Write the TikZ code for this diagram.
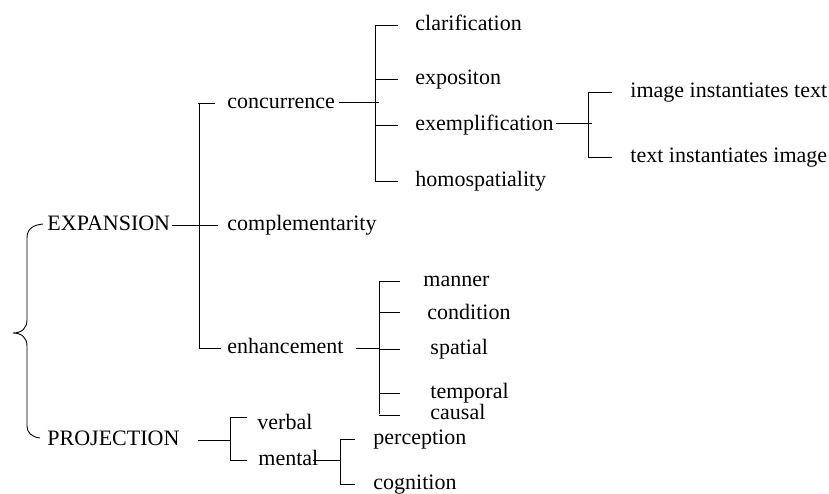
\documentclass[tikz,border=0pt]{standalone}
\usepackage{fontspec}
\setmainfont{Liberation Serif}
\usetikzlibrary{calc}
\begin{document}
\begin{tikzpicture}[x=1pt,y=-1pt,line width=0.9pt,
  lbl/.style={anchor=west,inner sep=0pt,text height=15.5pt,text depth=4.5pt,
              font=\fontsize{22}{26}\selectfont}]
\useasboundingbox (0,0) rectangle (829,494);

% labels
\node[lbl] (exp)   at (47,225)  {EXPANSION};
\node[lbl] (proj)  at (47,440)  {PROJECTION};
\node[lbl] (conc)  at (227,103) {concurrence};
\node[lbl] (compl) at (227,225) {complementarity};
\node[lbl] (enh)   at (227,348) {enhancement};
\node[lbl] (clar)  at (415,25)  {clarification};
\node[lbl] (expo)  at (415,79)  {expositon};
\node[lbl] (exem)  at (415,125) {exemplification};
\node[lbl] (homo)  at (415,181) {homospatiality};
\node[lbl] (itt)   at (630,92)  {image instantiates text};
\node[lbl] (tti)   at (630,157) {text instantiates image};
\node[lbl] (man)   at (423,281) {manner};
\node[lbl] (cond)  at (427,314) {condition};
\node[lbl] (spat)  at (430,349) {spatial};
\node[lbl] (temp)  at (430,393) {temporal};
\node[lbl] (caus)  at (430,414) {causal};
\node[lbl] (verb)  at (257,424) {verbal};
\node[lbl] (ment)  at (258,460) {mental};
\node[lbl] (perc)  at (373,439) {perception};
\node[lbl] (cogn)  at (373,484) {cognition};

% junction columns
\coordinate (v0) at (199,0);
\coordinate (v1) at (375,0);
\coordinate (v2) at (588,0);
\coordinate (v3) at (379,0);
\coordinate (v4) at (230,0);
\coordinate (v5) at (340,0);

% curly brace joining the two top-level options
\draw ($(exp.west)+(-4,-1)$) .. controls (34,225) and (27,228) .. (27,238)
  -- (27,320) .. controls (27,328) and (22,333) .. (13,333)
  .. controls (22,333) and (27,338) .. (27,346)
  -- (27,426) .. controls (27,433) and (32,437) .. ($(proj.west)+(-7,-2)$);

% EXPANSION
\draw ($(exp.east)+(1,0)$) -- ($(compl.west)+(-9,0)$);
\draw ($(v0 |- conc)+(-1,0)$) -- (v0 |- conc) -- (v0 |- enh);
\draw (v0 |- conc) -- ($(conc.west)+(-12,0)$);
\draw (v0 |- enh) -- ($(enh.west)+(-6,0)$);

% concurrence
\draw ($(conc.east)+(4,-1)$) -- ($(v1 |- conc)+(4,-1)$);
\draw (v1 |- clar) -- (v1 |- homo);
\draw (v1 |- clar) -- ($(clar.west)+(-17,0)$);
\draw (v1 |- expo) -- ($(expo.west)+(-17,0)$);
\draw (v1 |- exem) -- ($(exem.west)+(-17,0)$);
\draw (v1 |- homo) -- ($(homo.west)+(-17,0)$);

% exemplification
\draw ($(exem.east)+(2,-2)$) -- ($(v2 |- exem)+(4,-2)$);
\draw (v2 |- itt) -- (v2 |- tti);
\draw (v2 |- itt) -- ($(itt.west)+(-18,0)$);
\draw (v2 |- tti) -- ($(tti.west)+(-18,0)$);

% enhancement
\draw ($(enh.east)+(12,0)$) -- (v3 |- enh);
\draw (v3 |- man) -- (v3 |- caus);
\draw (v3 |- man) -- ($(man.west)+(-23,0)$);
\draw ($(v3 |- cond)+(0,-2)$) -- ($(cond.west)+(-27,-2)$);
\draw (v3 |- spat) -- ($(spat.west)+(-30,0)$);
\draw (v3 |- temp) -- ($(temp.west)+(-30,0)$);
\draw ($(v3 |- caus)+(0,1)$) -- ($(caus.west)+(-30,1)$);

% PROJECTION
\draw ($(proj.east)+(18,0)$) -- (v4 |- proj);
\draw ($(v4 |- verb)+(0,-7)$) -- (v4 |- ment);
\draw ($(v4 |- verb)+(0,-7)$) -- ($(verb.west)+(-10,-7)$);
\draw (v4 |- ment) -- ($(ment.west)+(-11,0)$);

% mental
\draw ($(ment.east)+(-6,0)$) -- (v5 |- ment);
\draw (v5 |- perc) -- (v5 |- cogn);
\draw (v5 |- perc) -- ($(perc.west)+(-18,0)$);
\draw (v5 |- cogn) -- ($(cogn.west)+(-18,0)$);
\end{tikzpicture}
\end{document}
